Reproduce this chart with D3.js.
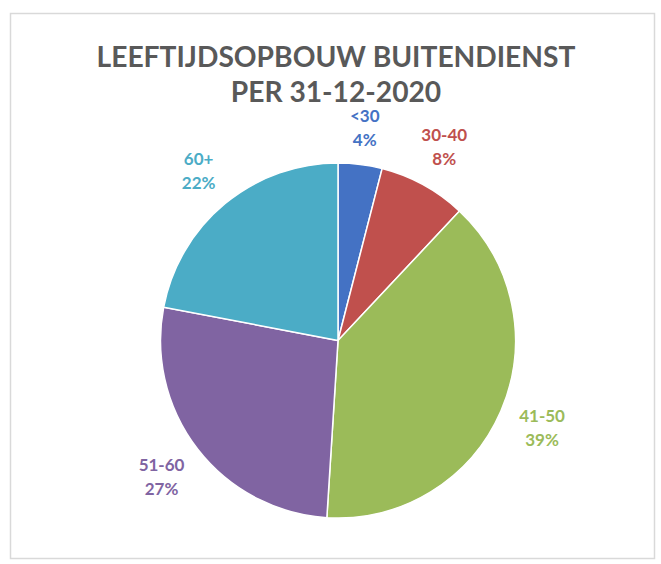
<!DOCTYPE html>
<html>
<head>
<meta charset="utf-8">
<script src="https://cdn.jsdelivr.net/npm/d3@7"></script>
<style>
  html, body { margin: 0; padding: 0; background: #fff; }
  svg { display: block; }
</style>
</head>
<body>
<svg id="chart" width="661" height="564"></svg>
<script>
const categories = ["<30", "30-40", "41-50", "51-60", "60+"];
const values = [4, 8, 39, 27, 22];
const colors = ["#4472C4", "#C0504D", "#9BBB59", "#8064A2", "#4BACC6"];
const titleLines = ["LEEFTIJDSOPBOUW BUITENDIENST", "PER 31-12-2020"];

const svg = d3.select("#chart");

svg.append("rect")
  .attr("x", 10.5).attr("y", 13.5)
  .attr("width", 644).attr("height", 545)
  .attr("fill", "#fff")
  .attr("stroke", "#d9d9d9")
  .attr("stroke-width", 1.5);

const font = "Lato, 'Open Sans', sans-serif";

svg.append("g").selectAll("text")
  .data(titleLines)
  .join("text")
  .attr("x", 336)
  .attr("y", (d, i) => 67 + i * 35)
  .attr("text-anchor", "middle")
  .attr("font-family", font)
  .attr("font-weight", "bold")
  .attr("font-size", 28.2)
  .attr("fill", "#595959")
  .text(d => d);

const cx = 338, cy = 340.5, r = 177.5;
const data = categories.map((c, i) => ({ cat: c, value: values[i], color: colors[i] }));
const total = d3.sum(values);

const pie = d3.pie().value(d => d.value).sort(null);
const arcs = pie(data);
const arc = d3.arc().innerRadius(0).outerRadius(r);

const g = svg.append("g").attr("transform", `translate(${cx},${cy})`);

g.selectAll("path")
  .data(arcs)
  .join("path")
  .attr("d", arc)
  .attr("fill", d => d.data.color)
  .attr("stroke", "#fff")
  .attr("stroke-width", 1.5);

const labels = g.selectAll("g.label")
  .data(arcs)
  .join("g")
  .attr("class", "label");

labels.append("text")
  .attr("y", -6.5)
  .attr("text-anchor", "middle")
  .attr("font-family", font)
  .attr("font-weight", "bold")
  .attr("font-size", 17)
  .attr("fill", d => d.data.color)
  .text(d => d.data.cat);

labels.append("text")
  .attr("y", 17.5)
  .attr("text-anchor", "middle")
  .attr("font-family", font)
  .attr("font-weight", "bold")
  .attr("font-size", 17)
  .attr("fill", d => d.data.color)
  .text(d => Math.round(d.data.value / total * 100) + "%");

// place each label block along its slice's mid-angle so that it clears the pie edge by a gap
const gap = 17;
labels.each(function(d) {
  const node = d3.select(this);
  let hw = 0;
  node.selectAll("text").each(function() { hw = Math.max(hw, this.getComputedTextLength() / 2); });
  const hh = 17.5;
  const a = (d.startAngle + d.endAngle) / 2;
  const ux = Math.sin(a), uy = -Math.cos(a);
  const boxDist = (dist) => {
    const px = ux * dist, py = uy * dist;
    const qx = Math.max(Math.abs(px) - hw, 0), qy = Math.max(Math.abs(py) - hh, 0);
    return Math.hypot(qx, qy);
  };
  let lo = r, hi = r + 200;
  for (let k = 0; k < 40; k++) {
    const mid = (lo + hi) / 2;
    if (boxDist(mid) < r + gap) lo = mid; else hi = mid;
  }
  node.attr("transform", `translate(${ux * hi},${uy * hi})`);
});
</script>
</body>
</html>
